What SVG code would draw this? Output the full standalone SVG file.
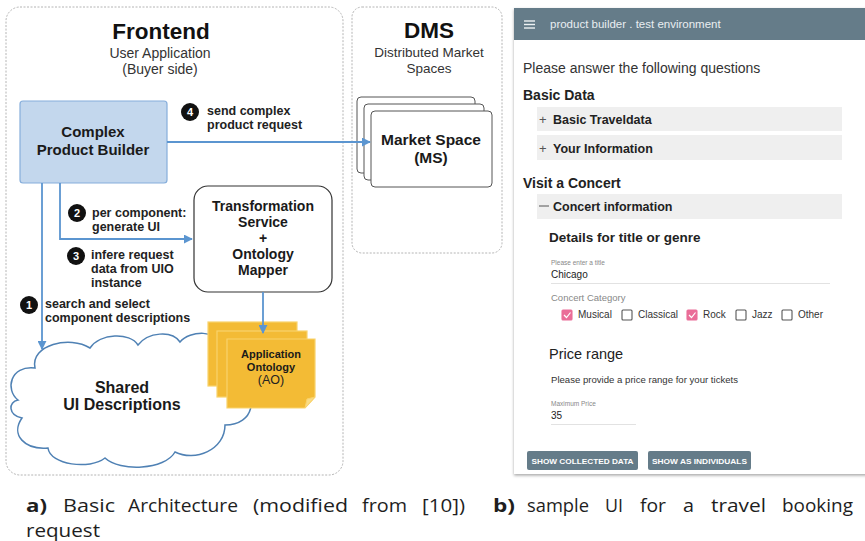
<svg xmlns="http://www.w3.org/2000/svg" width="865" height="541" viewBox="0 0 865 541">
  <defs>
    <style>
      .sans { font-family: "Liberation Sans", Arial, sans-serif; }
      .panel { fill: none; stroke: #b4b4b4; stroke-width: 1; stroke-dasharray: 2 1.5; }
      .title { font-family: "Liberation Sans", Arial, sans-serif; font-weight: bold; font-size: 22.5px; fill: #111; text-anchor: middle; }
      .sub { font-family: "Liberation Sans", Arial, sans-serif; font-size: 14px; fill: #333; text-anchor: middle; }
      .node { font-family: "Liberation Sans", Arial, sans-serif; font-weight: bold; fill: #1a1a1a; text-anchor: middle; }
      .step { font-family: "Liberation Sans", Arial, sans-serif; font-weight: bold; font-size: 12.5px; fill: #222; }
      .num { font-family: "Liberation Sans", Arial, sans-serif; font-weight: bold; font-size: 11px; fill: #fff; text-anchor: middle; }
      .conn { fill: none; stroke: #5b95d0; stroke-width: 1.8; }
      .page { fill: #f3bb35; stroke: #f9d36c; stroke-width: 1.2; }
      .ui { font-family: "Liberation Sans", Arial, sans-serif; fill: #222; }
      .bar { fill: #efefef; }
      .cb { fill: #fff; stroke: #555; stroke-width: 1.1; }
      .cbon { fill: #ea6d98; stroke: #ea6d98; stroke-width: 1.1; }
      .btn { fill: #657c89; }
      .btnt { font-family: "Liberation Sans", Arial, sans-serif; font-weight: bold; font-size: 8px; fill: #fff; text-anchor: middle; }
      .cap { font-family: "Open Sans", "Liberation Sans", sans-serif; font-size: 18px; fill: #1e1e1e; }
    </style>
    <marker id="arr" viewBox="0 0 10 10" refX="9" refY="5" markerWidth="5" markerHeight="5" orient="auto">
      <path d="M0,0 L10,5 L0,10 Z" fill="#5b95d0"/>
    </marker>
    <filter id="shadow" x="-5%" y="-5%" width="110%" height="110%">
      <feDropShadow dx="0" dy="1.5" stdDeviation="1.5" flood-color="#000" flood-opacity="0.35"/>
    </filter>
  </defs>

  <!-- Frontend panel -->
  <g id="frontend">
    <rect class="panel" x="6" y="7" width="337" height="468" rx="14"/>
    <text class="title" x="161" y="39">Frontend</text>
    <text class="sub" x="160" y="58">User Application</text>
    <text class="sub" x="160" y="74">(Buyer side)</text>
  </g>

  <!-- DMS panel -->
  <g id="dms">
    <rect class="panel" x="352" y="7" width="150" height="246" rx="10"/>
    <text class="title" x="429" y="38">DMS</text>
    <text class="sub" x="429" y="57" style="font-size:13.5px">Distributed Market</text>
    <text class="sub" x="429" y="73" style="font-size:13.5px">Spaces</text>
  </g>

  <!-- Shared UI descriptions cloud -->
  <g id="cloud">
    <path d="M18 400 C5 390, 10 365, 35 368 C30 345, 70 335, 90 348 C100 333, 130 332, 138 345 C148 332, 172 330, 180 342 C190 330, 218 330, 222 345 C245 345, 255 370, 240 385 C258 395, 255 425, 225 425 C225 450, 195 462, 175 452 C165 470, 120 472, 105 458 C90 470, 50 465, 48 448 C25 450, 10 435, 22 418 C8 415, 8 402, 18 400 Z" fill="#fff" stroke="#4f81b4" stroke-width="1.5"/>
    <text class="node" x="122" y="393" style="font-size:16px">Shared</text>
    <text class="node" x="122" y="410" style="font-size:16px">UI Descriptions</text>
  </g>

  <!-- Complex Product Builder -->
  <g id="builder">
    <rect x="20" y="101" width="147" height="82" rx="3" fill="#c3d7ed" stroke="#86aedb" stroke-width="1.2"/>
    <text class="node" x="93" y="137" style="font-size:15px">Complex</text>
    <text class="node" x="93" y="155" style="font-size:15px">Product Builder</text>
  </g>

  <!-- Transformation Service + Ontology Mapper -->
  <g id="transformation">
    <rect x="194" y="186" width="138" height="106" rx="14" fill="#fff" stroke="#333" stroke-width="1.2"/>
    <text class="node" x="263" y="211" style="font-size:14px">Transformation</text>
    <text class="node" x="263" y="227" style="font-size:14px">Service</text>
    <text class="node" x="263" y="243" style="font-size:14px">+</text>
    <text class="node" x="263" y="259" style="font-size:14px">Ontology</text>
    <text class="node" x="263" y="275" style="font-size:14px">Mapper</text>
  </g>

  <!-- Application Ontology stack -->
  <g id="ontology">
    <rect class="page" x="208" y="322" width="89" height="64"/>
    <rect class="page" x="217" y="331" width="90" height="66"/>
    <path class="page" d="M227 339 H315 V397 L305 408 H227 Z"/>
    <path d="M305 408 L307 399 L315 397 Z" fill="#f9dc86" stroke="#f9d36c" stroke-width="1"/>
    <text class="node" x="271" y="358" style="font-size:11px">Application</text>
    <text class="node" x="271" y="371" style="font-size:11px">Ontology</text>
    <text class="sans" x="271" y="384" style="font-size:12.5px;fill:#222" text-anchor="middle">(AO)</text>
  </g>

  <!-- Market Space stack -->
  <g id="market-space">
    <rect x="357" y="97" width="118" height="76" rx="4" fill="#fff" stroke="#555" stroke-width="1"/>
    <rect x="364" y="104" width="120" height="76" rx="4" fill="#fff" stroke="#555" stroke-width="1"/>
    <rect x="371" y="111" width="121" height="76" rx="4" fill="#fff" stroke="#555" stroke-width="1"/>
    <text class="node" x="431" y="145" style="font-size:15.5px">Market Space</text>
    <text class="node" x="431" y="163" style="font-size:15.5px">(MS)</text>
  </g>

  <!-- Connectors -->
  <g id="connectors">
    <path class="conn" d="M42 183 V349" marker-end="url(#arr)"/>
    <path class="conn" d="M60 183 V239 H192" marker-end="url(#arr)"/>
    <path class="conn" d="M167 142 H370" marker-end="url(#arr)"/>
    <path class="conn" d="M263 292 V333" marker-end="url(#arr)"/>
  </g>

  <!-- Step labels -->
  <g id="steps">
    <circle cx="190" cy="112" r="9" fill="#111"/>
    <text class="num" x="190" y="116">4</text>
    <text class="step" x="207" y="115">send complex</text>
    <text class="step" x="207" y="129">product request</text>

    <circle cx="77" cy="213" r="9" fill="#111"/>
    <text class="num" x="77" y="217">2</text>
    <text class="step" x="92" y="217">per component:</text>
    <text class="step" x="92" y="231">generate UI</text>

    <circle cx="76" cy="256" r="9" fill="#111"/>
    <text class="num" x="76" y="260">3</text>
    <text class="step" x="91" y="259">infere request</text>
    <text class="step" x="91" y="273">data from UIO</text>
    <text class="step" x="91" y="287">instance</text>

    <circle cx="29" cy="305" r="9" fill="#111"/>
    <text class="num" x="29" y="309">1</text>
    <text class="step" x="45" y="308">search and select</text>
    <text class="step" x="45" y="322">component descriptions</text>
  </g>

  <!-- Product builder user interface -->
  <g id="ui">
    <rect x="514" y="8" width="360" height="466" fill="#fff" filter="url(#shadow)"/>
    <rect x="514" y="8" width="351" height="32" fill="#657c89"/>
    <g stroke="#eef2f4" stroke-width="1.4">
      <line x1="524" y1="21" x2="535" y2="21"/>
      <line x1="524" y1="24.5" x2="535" y2="24.5"/>
      <line x1="524" y1="28" x2="535" y2="28"/>
    </g>
    <text class="sans" x="550" y="28" style="font-size:11.5px;fill:#e9eef1">product builder . test environment</text>

    <text class="ui" x="523" y="73" style="font-size:14px;fill:#333">Please answer the following questions</text>
    <text class="ui" x="523" y="100" style="font-size:14px;font-weight:bold">Basic Data</text>

    <rect class="bar" x="537" y="107" width="305" height="24"/>
    <text class="ui" x="539" y="124" style="font-size:13px;fill:#555">+</text>
    <text class="ui" x="553" y="124" style="font-size:12.5px;font-weight:bold">Basic Traveldata</text>

    <rect class="bar" x="537" y="135" width="305" height="25"/>
    <text class="ui" x="539" y="153" style="font-size:13px;fill:#555">+</text>
    <text class="ui" x="553" y="153" style="font-size:12.5px;font-weight:bold">Your Information</text>

    <text class="ui" x="523" y="188" style="font-size:14px;font-weight:bold">Visit a Concert</text>

    <rect class="bar" x="537" y="194" width="305" height="25"/>
    <line x1="539" y1="206" x2="549" y2="206" stroke="#555" stroke-width="1"/>
    <text class="ui" x="553" y="211" style="font-size:12.5px;font-weight:bold">Concert information</text>

    <text class="ui" x="549" y="242" style="font-size:13.5px;font-weight:bold">Details for title or genre</text>

    <text class="ui" x="551" y="265" style="font-size:6.5px;fill:#888">Please enter a title</text>
    <text class="ui" x="551" y="278" style="font-size:10px">Chicago</text>
    <line x1="551" y1="283.5" x2="830" y2="283.5" stroke="#e2e2e2" stroke-width="1"/>

    <text class="ui" x="551" y="301" style="font-size:9.5px;fill:#888">Concert Category</text>

    <rect class="cbon" x="562" y="310" width="10" height="10" rx="1"/>
    <path d="M564 315 L566.5 317.5 L570.5 312.5" fill="none" stroke="#fff" stroke-width="1.2"/>
    <text class="ui" x="578" y="318" style="font-size:10px;fill:#333">Musical</text>
    <rect class="cb" x="622" y="310" width="10" height="10" rx="1"/>
    <text class="ui" x="638" y="318" style="font-size:10px;fill:#333">Classical</text>
    <rect class="cbon" x="687" y="310" width="10" height="10" rx="1"/>
    <path d="M689 315 L691.5 317.5 L695.5 312.5" fill="none" stroke="#fff" stroke-width="1.2"/>
    <text class="ui" x="703" y="318" style="font-size:10px;fill:#333">Rock</text>
    <rect class="cb" x="736" y="310" width="10" height="10" rx="1"/>
    <text class="ui" x="752" y="318" style="font-size:10px;fill:#333">Jazz</text>
    <rect class="cb" x="782" y="310" width="10" height="10" rx="1"/>
    <text class="ui" x="798" y="318" style="font-size:10px;fill:#333">Other</text>

    <text class="ui" x="549" y="359" style="font-size:14.5px">Price range</text>
    <text class="ui" x="551" y="383" style="font-size:9.5px;fill:#333" textLength="187" lengthAdjust="spacingAndGlyphs">Please provide a price range for your tickets</text>

    <text class="ui" x="551" y="406" style="font-size:6.5px;fill:#888">Maximum Price</text>
    <text class="ui" x="551" y="419" style="font-size:10px">35</text>
    <line x1="551" y1="424.5" x2="636" y2="424.5" stroke="#e2e2e2" stroke-width="1"/>

    <rect class="btn" x="527" y="451" width="111" height="19" rx="2"/>
    <text class="btnt" x="582.5" y="464" textLength="102" lengthAdjust="spacingAndGlyphs">SHOW COLLECTED DATA</text>
    <rect class="btn" x="648" y="451" width="103" height="19" rx="2"/>
    <text class="btnt" x="699.5" y="464" textLength="95" lengthAdjust="spacingAndGlyphs">SHOW AS INDIVIDUALS</text>
  </g>

  <!-- Caption -->
  <g id="caption" class="cap">
    <text x="26" y="512" font-weight="bold" textLength="21" lengthAdjust="spacingAndGlyphs">a)</text>
    <text x="63" y="512" textLength="52" lengthAdjust="spacingAndGlyphs">Basic</text>
    <text x="128" y="512" textLength="110" lengthAdjust="spacingAndGlyphs">Architecture</text>
    <text x="253" y="512" textLength="95" lengthAdjust="spacingAndGlyphs">(modified</text>
    <text x="362" y="512" textLength="45" lengthAdjust="spacingAndGlyphs">from</text>
    <text x="422" y="512" textLength="43" lengthAdjust="spacingAndGlyphs">[10])</text>
    <text x="493" y="512" font-weight="bold" textLength="22" lengthAdjust="spacingAndGlyphs">b)</text>
    <text x="527" y="512" textLength="62" lengthAdjust="spacingAndGlyphs">sample</text>
    <text x="605" y="512" textLength="18" lengthAdjust="spacingAndGlyphs">UI</text>
    <text x="640" y="512" textLength="26" lengthAdjust="spacingAndGlyphs">for</text>
    <text x="683" y="512" textLength="11" lengthAdjust="spacingAndGlyphs">a</text>
    <text x="711" y="512" textLength="55" lengthAdjust="spacingAndGlyphs">travel</text>
    <text x="782" y="512" textLength="71" lengthAdjust="spacingAndGlyphs">booking</text>
    <text x="26" y="537" textLength="74" lengthAdjust="spacingAndGlyphs">request</text>
  </g>
</svg>
